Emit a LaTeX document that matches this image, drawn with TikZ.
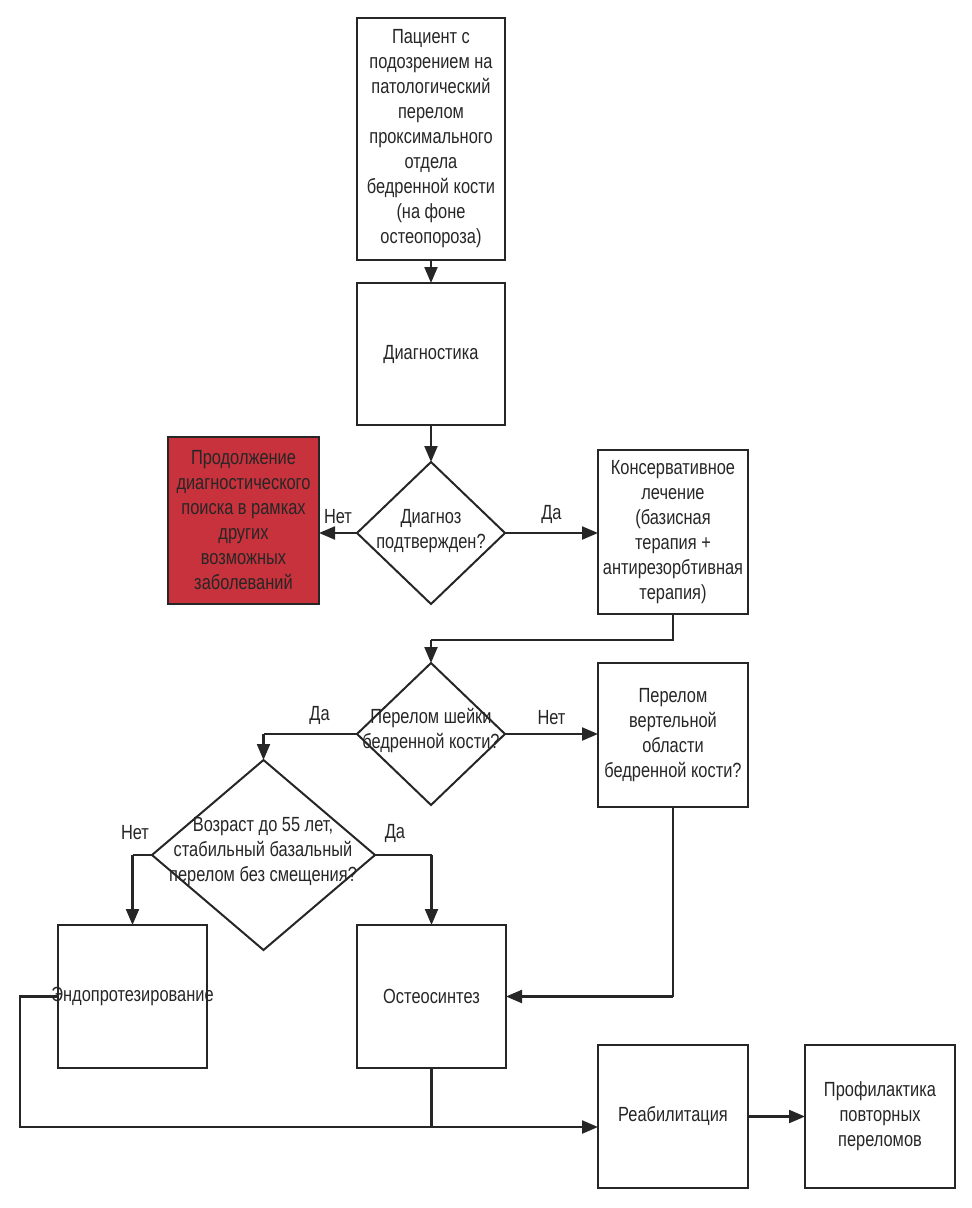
\documentclass[tikz,border=0pt]{standalone}
\usepackage{fontspec}
\setmainfont{Liberation Sans}[FakeStretch=0.8]
\usetikzlibrary{shapes.geometric,arrows.meta}
\definecolor{txt}{HTML}{262626}
\definecolor{redbox}{HTML}{C8323C}
\begin{document}
\begin{tikzpicture}[x=1pt,y=-1pt,
  font=\fontsize{20.5}{25}\selectfont,
  every node/.style={text=txt,align=center},
  box/.style={draw=black!85,line width=2pt,minimum width=#1,inner sep=0pt,outer sep=0pt,align=center},
  box/.default={148pt},
  dia/.style={draw=black!85,line width=2pt,shape=diamond,inner sep=0pt,outer sep=0pt},
  conn/.style={draw=black!85,line width=2.2pt},
  arr/.style={conn,-{Triangle[length=16pt,width=13pt]}},
  lbl/.style={inner sep=1pt}
]
\useasboundingbox (0,0) rectangle (972,1208);
% boxes
\node[box,minimum height=242pt] (pat) at (431,139) {Пациент с\\подозрением на\\патологический\\перелом\\проксимального\\отдела\\бедренной кости\\(на фоне\\остеопороза)};
\node[box,minimum height=142pt] (diag) at (431,354) {Диагностика};
\node[dia,minimum width=148pt,minimum height=142pt] (d1) at (431,533) {};
\node (t1) at (431,531) {Диагноз\\подтвержден?};
\node[box=151pt,minimum height=167pt,fill=redbox] (red) at (243.5,520.5) {Продолжение\\диагностического\\поиска в рамках\\других\\возможных\\заболеваний};
\node[box=150pt,minimum height=164pt] (cons) at (673,532) {Консервативное\\лечение\\(базисная\\терапия +\\антирезорбтивная\\терапия)};
\node[dia,minimum width=148pt,minimum height=142pt] (d2) at (431,734) {};
\node (t2) at (431,731) {Перелом шейки\\бедренной кости?};
\node[box=150pt,minimum height=144pt] (vert) at (673,735) {Перелом\\вертельной\\области\\бедренной кости?};
\node[dia,minimum width=223pt,minimum height=190pt] (d3) at (263.5,855) {};
\node (t3) at (263,852) {Возраст до 55 лет,\\стабильный базальный\\перелом без смещения?};
\node[box=149pt,minimum height=143pt] (endo) at (132.5,996.5) {};
\node (t4) at (132.5,996.5) {Эндопротезирование};
\node[box=149pt,minimum height=143pt] (osteo) at (431.5,996.5) {Остеосинтез};
\node[box=150pt,minimum height=143pt] (reab) at (673,1116.5) {Реабилитация};
\node[box=150pt,minimum height=143pt] (prof) at (880,1116.5) {Профилактика\\повторных\\переломов};
% coordinates
\coordinate (c1) at (673,640);
\coordinate (c2) at (431,640);
\coordinate (c3) at (263.5,734);
\coordinate (c4) at (132.5,855);
\coordinate (c5) at (431.5,855);
\coordinate (c6) at (673,996.5);
\coordinate (c7) at (20,996.5);
\coordinate (c8) at (20,1127);
\coordinate (c9) at (431.5,1127);
\coordinate (c10) at (598,1127);
% connectors
\draw[arr] (pat) -- (diag);
\draw[arr] (diag) -- (d1.north);
\draw[arr] (d1.west) -- (d1.west -| red.east) node[lbl,midway,above=7pt] {Нет};
\draw[arr] (d1.east) -- (d1.east -| cons.west) node[lbl,midway,above=7pt] {Да};
\draw[conn] (cons.south) -- (c1) -- (c2);
\draw[arr] (c2) -- (d2.north);
\draw[arr] (d2.east) -- (d2.east -| vert.west) node[lbl,midway,above=7pt] {Нет};
\draw[conn] (d2.west) -- (c3) node[lbl,pos=0.4,above=7pt] {Да};
\draw[arr] (c3) -- (d3.north);
\draw[conn] (d3.west) -- (c4);
\node[lbl] (l5) at (135,833) {Нет};
\draw[arr] (c4) -- (endo.north);
\draw[conn] (d3.east) -- (c5);
\node[lbl] (l6) at (395,833) {Да};
\draw[arr] (c5) -- (osteo.north);
\draw[conn] (vert.south) -- (c6);
\draw[arr] (c6) -- (osteo.east);
\draw[conn] (endo.west) -- (c7) -- (c8) -- (c9);
\draw[conn] (osteo.south) -- (c9);
\draw[arr] (c9) -- (c10);
\draw[arr] (reab.east) -- (prof.west);
\end{tikzpicture}
\end{document}
